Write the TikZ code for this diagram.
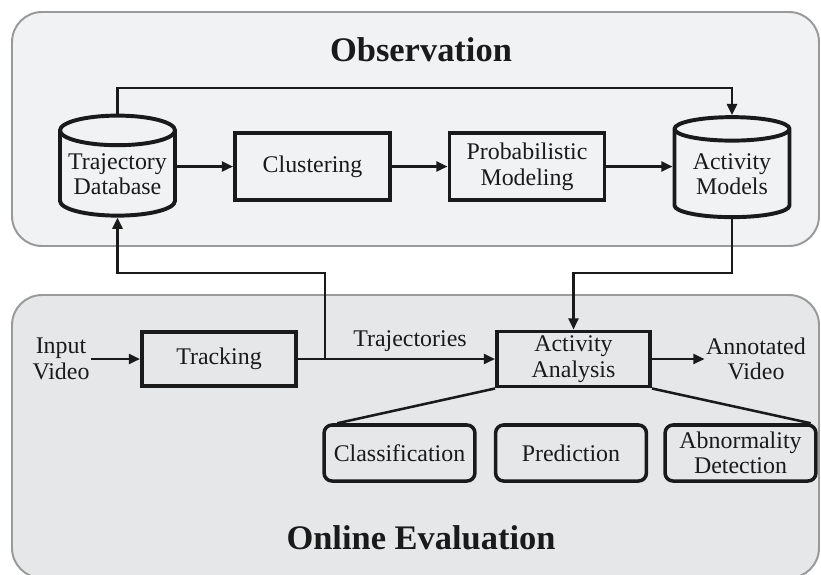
\documentclass[tikz,border=0pt]{standalone}
\usepackage{fontspec}
\setmainfont{Liberation Serif}
\usetikzlibrary{shapes.geometric,arrows.meta,calc}

\definecolor{obsfill}{HTML}{F1F2F4}
\definecolor{evalfill}{HTML}{E6E7E9}
\definecolor{panelline}{HTML}{9A9A9A}
\definecolor{ink}{HTML}{1A1A1A}

\begin{document}
\begin{tikzpicture}[x=0.025cm, y=-0.025cm,
    every node/.style={font=\fontsize{17}{18.2}\selectfont, text=ink},
    panel/.style={draw=panelline, line width=1.4pt, rounded corners=0.75cm},
    title/.style={font=\fontsize{24.5}{27}\selectfont\bfseries},
    block/.style={draw=ink, line width=2.8pt, align=center, inner sep=0pt},
    store/.style={cylinder, shape border rotate=90, shape aspect=0.3, draw=ink,
        line width=2.8pt, align=center, minimum width=2.875cm, minimum height=2.5cm, inner sep=0pt},
    task/.style={block, rounded corners=0.2cm, line width=2.5pt, minimum width=3.77cm, minimum height=1.4cm},
    conn/.style={draw=ink, line width=1.8pt},
    flow/.style={conn, -{Triangle[length=0.28cm, width=0.25cm]}}]
    \useasboundingbox (0,0) rectangle (821,574);
    \fill[white] (0,0) rectangle (821,574);
    % the two stages
    \draw[panel, fill=obsfill] (12,12) rectangle (819,246);
    \draw[panel, fill=evalfill] (12,295) rectangle (819,578);

    \node[title] (obstitle) at (421,50) {Observation};
    \node[store] (trajdb) at (117.5,174) {Trajectory\\Database};
    \node[block, minimum width=3.875cm, minimum height=1.675cm] (clust) at (312.5,166.5) {Clustering};
    \node[block, minimum width=3.875cm, minimum height=1.675cm] (probmod) at (527,166.5) {Probabilistic\\Modeling};
    \node[store] (actmod) at (732,174) {Activity\\Models};

    \node[align=center, inner sep=1pt] (invideo) at (61,359) {Input\\Video};
    \node[block, minimum width=3.85cm, minimum height=1.35cm] (track) at (219,359) {Tracking};
    \node[block, minimum width=3.825cm, minimum height=1.375cm] (actan) at (573.5,359) {Activity\\Analysis};
    \node[align=center, inner sep=1pt] (outvideo) at (756,359) {Annotated\\Video};
    \node[task] (classif) at (399.5,453) {Classification};
    \node[task] (pred) at (571,453) {Prediction};
    \node[task] (abnorm) at (740.5,453) {Abnormality\\Detection};
    \node[title] (evaltitle) at (421,538) {Online Evaluation};

    \coordinate (split) at (325,359);
    \coordinate (upper) at (0,88);
    \coordinate (lower) at (0,273);

    % observation flow
    \draw[flow] (trajdb.east |- clust) -- (clust);
    \draw[flow] (clust) -- (probmod);
    \draw[flow] (probmod) -- (actmod.west |- probmod);
    \draw[flow] (trajdb.north) |- (upper -| actmod.north) -- (actmod.north);
    \draw[flow] (actmod.south) |- (lower -| actan.north) -- (actan.north);

    % online flow
    \draw[flow] (invideo) -- (track);
    \draw[conn] (track) -- (split);
    \draw[flow] (split) -- node[above=1pt] (trajlbl) {Trajectories} (actan);
    \draw[flow] (split) -- (split |- lower) -| (trajdb.south);
    \draw[flow] (actan) -- (outvideo);
    \draw[conn] (actan.south west) -- ($(classif.north west)+(15,0)$);
    \draw[conn] (actan.south east) -- ($(abnorm.north east)+(-7,0)$);
\end{tikzpicture}
\end{document}
